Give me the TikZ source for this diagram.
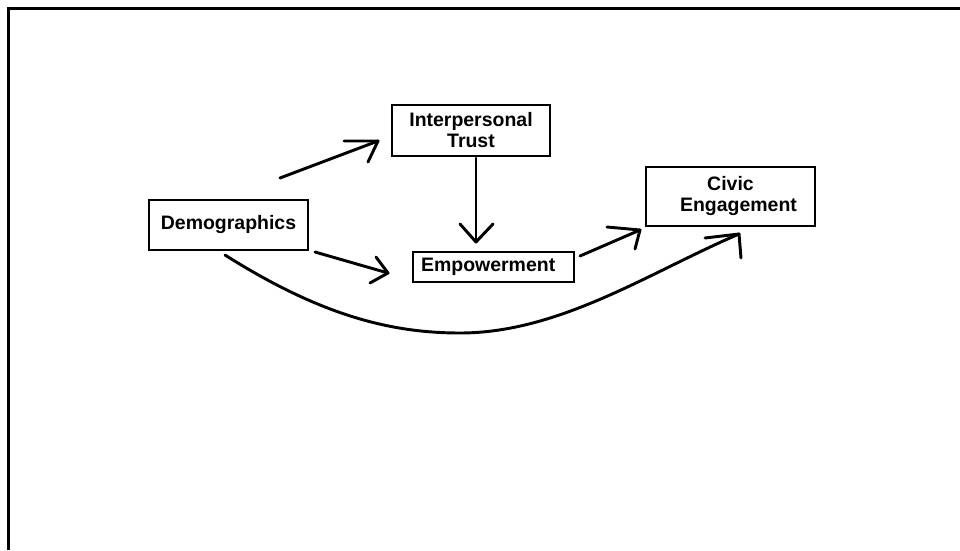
\documentclass[tikz,border=0pt]{standalone}
\usepackage{fontspec}
\setmainfont{Liberation Sans}
\begin{document}
\begin{tikzpicture}[x=0.75pt,y=-0.75pt,
  box/.style={draw=black,line width=1.8pt,rectangle,inner sep=0pt,align=center,
    font=\fontsize{14.6pt}{15.75pt}\selectfont\bfseries},
  conn/.style={draw=black,line width=2.2pt,line cap=round,line join=round},
  frame/.style={draw=black,line width=2.4pt}]
\useasboundingbox (0,0) rectangle (960,550);
\fill[white] (0,0) rectangle (960,550);
% frame (top and left edges)
\coordinate (ftl) at (8.5,8.5);
\coordinate (ftr) at (960,8.5);
\coordinate (fbl) at (8.5,550);
\draw[frame] (ftr) -- (ftl) -- (fbl);
% boxes
\node[box,minimum width=119.25pt,minimum height=37.5pt] (demo) at (228.5,225) {Demographics};
\node[box,minimum width=118.5pt,minimum height=38.25pt] (trust) at (471,130.5) {Interpersonal\\Trust};
\node[box,minimum width=120.75pt,minimum height=22.5pt] (emp) at (493.5,267) {\hspace*{-8pt}Empowerment};
\node[box,minimum width=126.75pt,minimum height=44.25pt] (civic) at (730.5,196.5) {Civic\\\hspace*{12pt}Engagement};
% connector end points
\coordinate (a1s) at (280,178); \coordinate (a1t) at (378,141);
\coordinate (a1b) at (344,141); \coordinate (a1c) at (368,162);
\coordinate (a2s) at (315,252); \coordinate (a2t) at (388,273);
\coordinate (a2b) at (376,257); \coordinate (a2c) at (370,283);
\coordinate (a3s) at (476,158); \coordinate (a3t) at (476,242);
\coordinate (a3b) at (460,224); \coordinate (a3c) at (493,224);
\coordinate (a4s) at (580,256); \coordinate (a4t) at (640,230);
\coordinate (a4b) at (607,227); \coordinate (a4c) at (635,249);
\coordinate (a5s) at (225,255); \coordinate (a5m) at (460,333); \coordinate (a5t) at (739,234);
\coordinate (a5b) at (705,238); \coordinate (a5c) at (741,258);
% connectors
\draw[conn] (a1s) -- (a1t);
\draw[conn] (a1b) -- (a1t) -- (a1c);
\draw[conn] (a2s) -- (a2t);
\draw[conn] (a2b) -- (a2t) -- (a2c);
\draw[conn] (a3s) -- (a3t);
\draw[conn] (a3b) -- (a3t) -- (a3c);
\draw[conn] (a4s) -- (a4t);
\draw[conn] (a4b) -- (a4t) -- (a4c);
\draw[conn] (a5s) .. controls (320,315) and (390,333) .. (a5m) .. controls (560,333) and (650,272) .. (a5t);
\draw[conn] (a5b) -- (a5t) -- (a5c);
\end{tikzpicture}
\end{document}
